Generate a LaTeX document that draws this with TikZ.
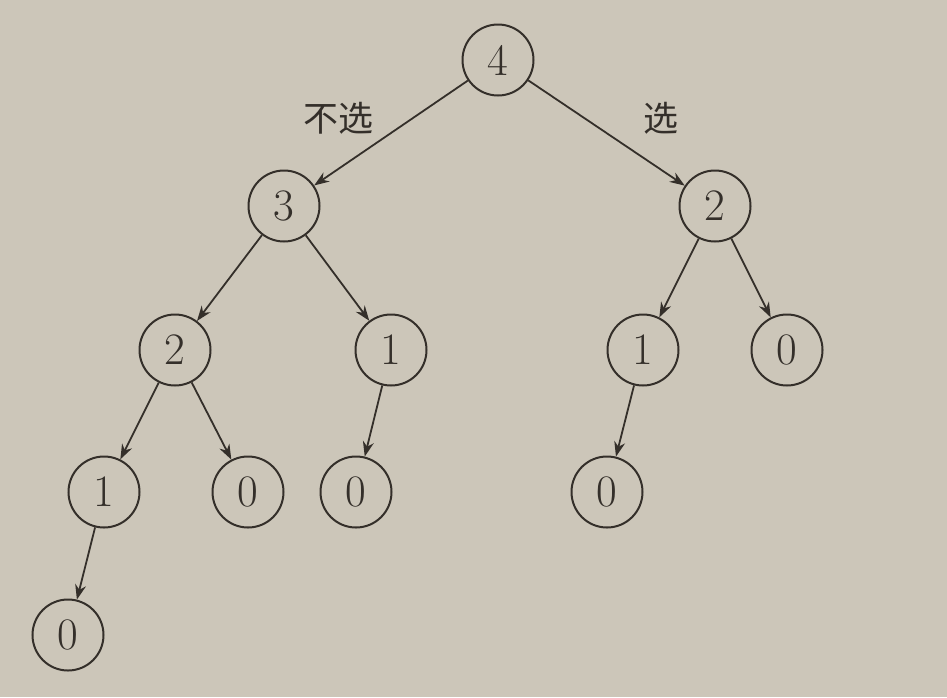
\documentclass[tikz,border=0pt]{standalone}
\usepackage{fontspec}
\newfontfamily\cjk{Noto Sans CJK SC}
\usepackage{tikz}
\usetikzlibrary{arrows.meta}
\definecolor{paper}{RGB}{204,198,185}
\definecolor{ink}{RGB}{52,47,42}
\tikzstyle{vertex}=[circle,draw=ink,line width=2pt,minimum size=71pt,inner sep=0pt,text=ink,font=\fontsize{45}{45}\selectfont]
\tikzstyle{edge} = [draw=ink,line width=1.8pt,-{Stealth[length=15pt,width=11pt]}]
\tikzstyle{weight} = [text=ink,font=\cjk\fontsize{35}{35}\selectfont]

\begin{document}
\begin{tikzpicture}[x=1pt,y=-1pt]

 \fill[paper] (0,0) rectangle (947,697);
 \useasboundingbox (0,0) rectangle (947,697);

%layer 0
    \node[vertex] (root) at (498,60) {4};
%layer 1
    \foreach \pos/\name/\txt in {{(284,206)/L11/3}, {(715,206)/L12/2}}
        \node[vertex] (\name) at \pos {\txt};
%layer 2
    \foreach \pos/\name/\txt in {{(175,350)/L21/2}, {(391,350)/L22/1}, {(643,350)/L23/1}, {(787,350)/L24/0}}
        \node[vertex] (\name) at \pos {\txt};
%layer 3
    \foreach \pos/\name/\txt in {{(104,492)/L31/1}, {(248,492)/L32/0}, {(356,492)/L33/0}, {(607,492)/L34/0}}
        \node[vertex] (\name) at \pos {\txt};
%layer 4
    \foreach \pos/\name/\txt in {{(68,635)/L41/0}}
        \node[vertex] (\name) at \pos {\txt};

 % Edges
    \foreach \source/\dest in {root/L11, root/L12, L11/L21, L11/L22, L12/L23, L12/L24,
                               L21/L31, L21/L32, L22/L33, L23/L34, L31/L41}
        \path[edge] (\source) -- (\dest);

 % Label
    \node[weight] (nosel) at (338,118) {不选};
    \node[weight] (sel) at (661,118) {选};

\end{tikzpicture}
\end{document}
